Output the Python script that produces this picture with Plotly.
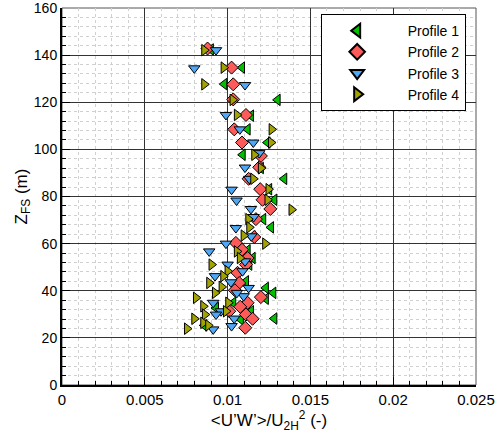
import plotly.graph_objects as go

# Profile 1 (green, triangle-left)
p1_x = [0.00899, 0.01087, 0.00980, 0.01302, 0.01141, 0.01121, 0.01241, 0.01091, 0.01201, 0.01342,
        0.01251, 0.01282, 0.01215, 0.01262, 0.01151, 0.01121, 0.01151, 0.01131, 0.01111, 0.01231,
        0.01276, 0.01231, 0.01034, 0.01141, 0.01282, 0.00930, 0.00859, 0.01080]
p1_z = [142.4, 134.7, 127.7, 121.0, 114.3, 108.5, 102.9, 97.7, 92.1, 87.5,
        83.1, 78.6, 70.4, 66.9, 63.1, 57.2, 53.9, 51.1, 44.0, 41.2,
        39.1, 36.6, 34.9, 31.3, 28.2, 32.7, 25.3, 27.8]

# Profile 2 (red, diamond)
p2_x = [0.00879, 0.01024, 0.01034, 0.01034, 0.01111, 0.01040, 0.01087, 0.01201, 0.01191, 0.01127,
        0.01197, 0.01211, 0.01258, 0.01171, 0.01161, 0.01050, 0.01087, 0.01121, 0.01111, 0.01060,
        0.01070, 0.01044, 0.01201, 0.01121, 0.01076, 0.01111, 0.01151, 0.01107, 0.01010]
p2_z = [142.8, 134.7, 127.6, 121.2, 114.6, 108.5, 102.9, 97.2, 92.4, 87.5,
        83.1, 78.6, 74.7, 70.4, 62.8, 60.3, 57.4, 53.9, 51.1, 47.6,
        43.3, 40.2, 37.3, 34.9, 33.2, 29.9, 28.1, 24.3, 31.3]

# Profile 3 (blue, triangle-down)
p3_x = [0.00930, 0.00799, 0.01105, 0.00990, 0.01074, 0.01155, 0.01191, 0.01105, 0.01131, 0.01024,
        0.01054, 0.01141, 0.01157, 0.01050, 0.01143, 0.00990, 0.00889, 0.01105, 0.01000, 0.01090,
        0.00924, 0.01020, 0.01127, 0.01097, 0.00913, 0.00960, 0.00930, 0.01040, 0.01024, 0.00913,
        0.01056]
p3_z = [142.1, 134.4, 127.3, 114.6, 108.5, 102.9, 98.4, 92.3, 87.5, 82.9,
        78.3, 74.7, 71.3, 66.6, 63.1, 60.0, 56.7, 52.5, 51.1, 48.3,
        46.2, 43.6, 41.2, 37.7, 34.9, 31.3, 29.9, 28.2, 25.0, 23.6,
        39.1]

# Profile 4 (olive, triangle-right)
p4_x = [0.00859, 0.00976, 0.00859, 0.01030, 0.01056, 0.01266, 0.01262, 0.01161, 0.01201, 0.01155,
        0.01247, 0.01241, 0.01386, 0.01125, 0.01131, 0.01097, 0.01227, 0.01056, 0.01074, 0.00903,
        0.01000, 0.00974, 0.00889, 0.00964, 0.00924, 0.00809, 0.01004, 0.00853, 0.00990, 0.00863,
        0.00799, 0.00853, 0.00883, 0.00755]
p4_z = [142.1, 134.7, 127.6, 121.0, 114.6, 108.5, 102.9, 97.7, 92.0, 87.5,
        83.1, 78.6, 74.4, 70.4, 66.9, 63.4, 60.0, 56.7, 53.9, 51.1,
        48.3, 46.2, 43.3, 41.6, 39.1, 37.0, 34.9, 33.4, 31.3, 29.9,
        28.1, 26.4, 25.3, 23.9]

names = ["Profile 1", "Profile 2", "Profile 3", "Profile 4"]
x_ticks = [0, 0.005, 0.01, 0.015, 0.02, 0.025]
x_tick_labels = ["0", "0.005", "0.01", "0.015", "0.02", "0.025"]
y_ticks = [0, 20, 40, 60, 80, 100, 120, 140, 160]
y_tick_labels = ["0", "20", "40", "60", "80", "100", "120", "140", "160"]

series = [
    (p1_x, p1_z, "triangle-left", "#00c000", 10),
    (p2_x, p2_z, "diamond", "#ff5a5a", 10),
    (p3_x, p3_z, "triangle-down", "#4ea8f5", 10),
    (p4_x, p4_z, "triangle-right", "#a3a300", 10),
]

fig = go.Figure()
pad = "\u00a0" * 4
for (xs, zs, sym, col, sz), nm in zip(series, names):
    fig.add_trace(go.Scatter(
        x=xs, y=zs, mode="markers", name=pad + nm,
        marker=dict(symbol=sym, color=col, size=sz,
                    line=dict(color="black", width=1)),
    ))

font_family = "Liberation Sans, Arial, sans-serif"

fig.update_layout(
    width=499, height=438,
    margin=dict(l=62, r=23, t=8, b=53),
    paper_bgcolor="white", plot_bgcolor="white",
    font=dict(family=font_family, color="black", size=15),
    showlegend=True,
    legend=dict(
        x=0.626, y=0.984, xanchor="left", yanchor="top",
        bgcolor="white", bordercolor="black", borderwidth=1,
        font=dict(size=14, family=font_family),
        tracegroupgap=0, itemsizing="constant", itemwidth=60,
    ),
    xaxis=dict(
        range=[0, 0.025], tickvals=x_ticks, ticktext=x_tick_labels,
        automargin=False, ticklabeloverflow="allow",
        showgrid=True, gridcolor="#333333", gridwidth=1,
        ticks="inside", ticklen=8, tickwidth=1, tickcolor="black",
        showline=True, linecolor="black", linewidth=2,
        minor=dict(dtick=0.001, ticks="inside", ticklen=4, tickcolor="black",
                   showgrid=True, gridcolor="#d0d0d0", griddash="dot", gridwidth=1),
        zeroline=False,
        tickfont=dict(size=15),
        title=dict(text="&lt;U’W’&gt;/U<sub>2H</sub><sup>2</sup> (-)", font=dict(size=17), standoff=4),
    ),
    yaxis=dict(
        range=[0, 160], tickvals=y_ticks, ticktext=y_tick_labels,
        automargin=False, ticklabeloverflow="allow",
        showgrid=True, gridcolor="#333333", gridwidth=1,
        ticks="inside", ticklen=8, tickwidth=1, tickcolor="black",
        showline=True, linecolor="black", linewidth=2,
        minor=dict(dtick=4, ticks="inside", ticklen=4, tickcolor="black",
                   showgrid=True, gridcolor="#d0d0d0", griddash="dot", gridwidth=1),
        zeroline=False,
        tickfont=dict(size=14),
        title=dict(text="Z<sub>FS</sub> (m)", font=dict(size=17), standoff=2),
    ),
)

fig.add_shape(type="rect", xref="paper", yref="paper", x0=0, y0=0, x1=1, y1=1,
              line=dict(color="#555555", width=1), layer="below")

fig.write_html("out.html", config={"displayModeBar": False},
               post_script="document.body.style.margin='0';")
